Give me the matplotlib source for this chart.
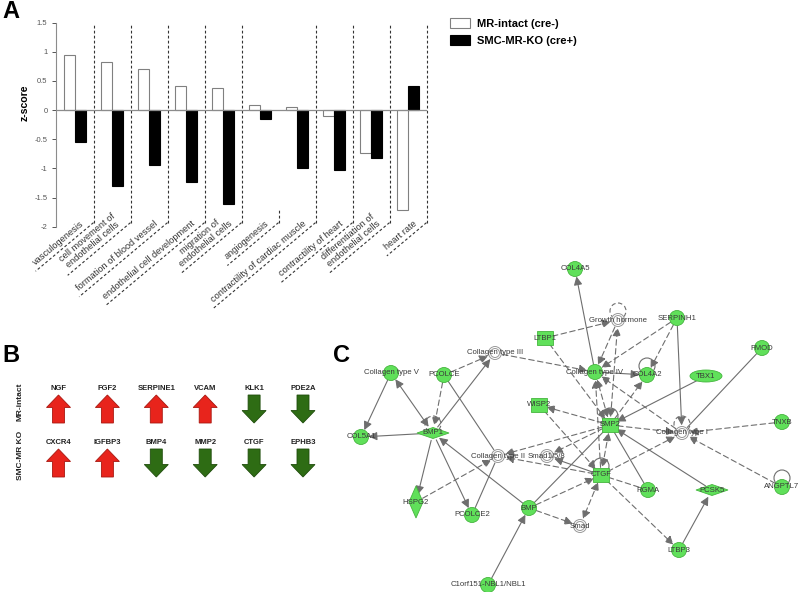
import numpy as np
import matplotlib
matplotlib.use('Agg')
import matplotlib.pyplot as plt
from matplotlib.patches import Circle, Rectangle, Polygon, Ellipse, FancyArrowPatch

plt.rcParams['font.family'] = ['Liberation Sans', 'DejaVu Sans']

# ---- panel A data ----
categories = ['vasculogenesis', 'cell movement of\nendothelial cells',
              'formation of blood vessel', 'endothelial cell development',
              'migration of\nendothelial cells', 'angiogenesis',
              'contractility of cardiac muscle', 'contractility of heart',
              'differentiation of\nendothelial cells', 'heart rate']
mr_intact = [0.95, 0.83, 0.71, 0.42, 0.38, 0.09, 0.06, -0.10, -0.74, -1.72]
smc_mr_ko = [-0.54, -1.30, -0.95, -1.23, -1.61, -0.15, -0.99, -1.02, -0.82, 0.41]
yticks = [1.5, 1, 0.5, 0, -0.5, -1, -1.5, -2]
ytick_labels = ['1.5', '1', '0.5', '0', '-0.5', '-1', '-1.5', '-2']

# ---- panel B data ----
row_names = ['MR-intact', 'SMC-MR KO']
row1_genes = ['NGF', 'FGF2', 'SERPINE1', 'VCAM', 'KLK1', 'PDE2A']
row1_dir = [1, 1, 1, 1, -1, -1]
row2_genes = ['CXCR4', 'IGFBP3', 'BMP4', 'MMP2', 'CTGF', 'EPHB3']
row2_dir = [1, 1, -1, -1, -1, -1]

# ---- panel C data (network layout in pixels) ----
node_names = ['COL4A5', 'Growth hormone', 'SERPINH1', 'LTBP1', 'FMOD',
              'Collagen type III', 'Collagen type V', 'PCOLCE', 'Collagen type IV',
              'COL4A2', 'TBX1', 'WISP2', 'BMP2', 'TNXB', 'Collagen type I',
              'COL5A1', 'BMP1', 'Collagen type II', 'Smad1/5/8', 'CTGF', 'RGMA',
              'PCSK5', 'ANGPTL7', 'HSPG2', 'PCOLCE2', 'BMP', 'Smad', 'LTBP3',
              'C1orf151-NBL1/NBL1']
node_x = [575, 618, 677, 545, 762, 495, 391, 444, 595, 647, 706, 539, 610, 782,
          682, 361, 433, 498, 547, 601, 648, 712, 782, 416, 472, 529, 580, 679, 488]
node_y = [269, 320, 318, 338, 348, 353, 373, 375, 372, 375, 376, 405, 425, 422,
          433, 437, 433, 456, 456, 475, 490, 490, 487, 502, 515, 508, 526, 550, 585]
node_kind = ['o', 'w', 'o', 's', 'o', 'w', 'o', 'o', 'o', 'o', 'e', 's', 's', 'o',
             'w', 'o', 'dw', 'w', 'w', 's', 'o', 'dw', 'o', 'dt', 'o', 'o', 'w', 'o', 'o']
self_loops = [('Growth hormone', '--'), ('COL4A2', '-'), ('BMP2', '-'),
              ('Collagen type I', '--'), ('BMP1', '--'), ('CTGF', '-'), ('ANGPTL7', '-')]
edges = [
    ('Collagen type V', 'COL5A1', '-', '->'),
    ('BMP1', 'Collagen type V', '-', '<->'),
    ('BMP1', 'COL5A1', '-', '->'),
    ('BMP1', 'Collagen type III', '-', '->'),
    ('BMP1', 'HSPG2', '-', '->'),
    ('BMP1', 'PCOLCE2', '-', '->'),
    ('PCOLCE', 'Collagen type II', '-', '-'),
    ('PCOLCE2', 'Collagen type II', '-', '-'),
    ('BMP', 'BMP1', '-', '->'),
    ('BMP', 'BMP2', '-', '-'),
    ('C1orf151-NBL1/NBL1', 'BMP', '-', '->'),
    ('Collagen type IV', 'COL4A5', '-', '->'),
    ('Collagen type IV', 'COL4A2', '-', '->'),
    ('SERPINH1', 'Collagen type I', '-', '->'),
    ('FMOD', 'Collagen type I', '-', '-'),
    ('TBX1', 'BMP2', '-', '->'),
    ('RGMA', 'BMP2', '-', '-'),
    ('PCSK5', 'BMP2', '-', '->'),
    ('LTBP3', 'PCSK5', '-', '->'),
    ('CTGF', 'Smad1/5/8', '-', '->'),
    ('PCOLCE', 'Collagen type III', '--', '->'),
    ('PCOLCE', 'BMP1', '--', '->'),
    ('Collagen type III', 'Collagen type IV', '--', '->'),
    ('LTBP1', 'Growth hormone', '--', '->'),
    ('LTBP1', 'BMP2', '--', '->'),
    ('Growth hormone', 'Collagen type IV', '--', '->'),
    ('BMP2', 'Growth hormone', '--', '<->'),
    ('SERPINH1', 'Collagen type IV', '--', '->'),
    ('SERPINH1', 'COL4A2', '--', '->'),
    ('BMP2', 'Collagen type IV', '--', '<->'),
    ('CTGF', 'Collagen type IV', '--', '->'),
    ('Collagen type I', 'Collagen type IV', '--', '->'),
    ('BMP2', 'COL4A2', '--', '->'),
    ('BMP2', 'WISP2', '--', '->'),
    ('BMP2', 'Collagen type I', '--', '->'),
    ('BMP2', 'Collagen type II', '--', '->'),
    ('BMP2', 'Smad1/5/8', '--', '->'),
    ('TNXB', 'Collagen type I', '--', '->'),
    ('ANGPTL7', 'Collagen type I', '--', '->'),
    ('CTGF', 'Collagen type I', '--', '->'),
    ('CTGF', 'Collagen type II', '--', '->'),
    ('BMP2', 'CTGF', '--', '<->'),
    ('CTGF', 'LTBP3', '--', '->'),
    ('CTGF', 'RGMA', '--', '-'),
    ('WISP2', 'CTGF', '--', '->'),
    ('HSPG2', 'Collagen type II', '--', '->'),
    ('BMP', 'Smad', '--', '->'),
    ('BMP', 'CTGF', '--', '->'),
    ('CTGF', 'Smad', '--', '<->'),
]

W, H = 800, 592
fig = plt.figure(figsize=(8, 5.92), dpi=100)

# overlay axes in pixel coordinates
ov = fig.add_axes([0, 0, 1, 1])
ov.set_xlim(0, W)
ov.set_ylim(H, 0)
ov.axis('off')

# ---------------- panel A ----------------
ax = fig.add_axes([56.5 / W, 1 - 226.7 / H, 370 / W, 204 / H])
ax.patch.set_visible(False)
x = np.arange(len(categories)) + 0.5
bars_w = ax.bar(x - 0.15, mr_intact, 0.3, color='white', edgecolor='#808080', lw=0.8,
                label='MR-intact (cre-)', zorder=2)
bars_b = ax.bar(x + 0.15, smc_mr_ko, 0.3, color='black', edgecolor='black', lw=0.8,
                label='SMC-MR-KO (cre+)', zorder=2)
ax.axhline(0, color='#8c8c8c', lw=0.9, zorder=3)
ax.set_xlim(0, len(categories))
ax.set_ylim(-2, 1.5)
ax.set_yticks(yticks)
ax.set_yticklabels(ytick_labels)
ax.tick_params(axis='y', labelsize=5.5, colors='#555555', length=3, width=0.7)
ax.set_xticks([])
for s in ['top', 'right', 'bottom']:
    ax.spines[s].set_visible(False)
ax.spines['left'].set_color('#8c8c8c')
ax.set_ylabel('z-score', fontsize=7.6, fontweight='bold')
ax.yaxis.set_label_coords(-0.072, 0.61)

# dashed cell dividers
div_top, div_bot = 1.46, -1.93
for i in range(1, len(categories) + 1):
    top = -1.72 if i == 6 else div_top
    ax.plot([i, i], [div_bot, top], color='#333333', lw=0.8, ls=(0, (2.5, 2)),
            clip_on=False, zorder=1)

# rotated labels with dashed underline
renderer = fig.canvas.get_renderer()
ang = np.deg2rad(40)
d = np.array([-np.cos(ang), np.sin(ang)])
n = np.array([-np.sin(ang), -np.cos(ang)])
for i, lab in enumerate(categories):
    p = ax.transData.transform((i + 1, div_bot))
    start = np.array([p[0], H - p[1]])
    anchor = start + 8 * d + 2.5 * n
    t = ov.text(anchor[0], anchor[1], lab, fontsize=6.7, color='#333333',
                ha='right', va='bottom', multialignment='center',
                linespacing=1.0, rotation_mode='anchor')
    width = t.get_window_extent(renderer).width
    t.set_rotation(40)
    end = start + (width + 12) * d
    ov.plot([start[0], end[0]], [start[1], end[1]], color='#333333', lw=0.8,
            ls=(0, (2.5, 2)))

fig.legend(handles=[bars_w, bars_b], loc='upper left',
           bbox_to_anchor=(450 / W, 1 - 18 / H), frameon=False,
           prop={'weight': 'bold', 'size': 8}, handlelength=1.8, handleheight=1.0,
           handletextpad=0.6, labelspacing=0.6, borderpad=0, borderaxespad=0)

# ---------------- panel letters ----------------
for letter, (lx, ly) in zip('ABC', [(11, 11), (11, 356), (341, 355)]):
    ov.text(lx, ly, letter, fontsize=17, fontweight='bold', ha='center', va='center')

# ---------------- panel B ----------------
col_x0, col_dx = 58.5, 48.9
red, red_edge = '#e8241c', '#a8170f'
green, green_edge = '#2e6c14', '#1f4c0c'


def arrow_poly(cx, top, direction):
    hw, sw, hh, L = 12, 6, 12.5, 28
    if direction > 0:
        pts = [(cx, top), (cx + hw, top + hh), (cx + sw, top + hh), (cx + sw, top + L),
               (cx - sw, top + L), (cx - sw, top + hh), (cx - hw, top + hh)]
        return Polygon(pts, closed=True, fc=red, ec=red_edge, lw=0.6)
    pts = [(cx, top + L), (cx + hw, top + L - hh), (cx + sw, top + L - hh), (cx + sw, top),
           (cx - sw, top), (cx - sw, top + L - hh), (cx - hw, top + L - hh)]
    return Polygon(pts, closed=True, fc=green, ec=green_edge, lw=0.6)


for genes, dirs, label_y, arrow_top in [(row1_genes, row1_dir, 388, 395),
                                        (row2_genes, row2_dir, 442, 449)]:
    for j, (g, dr) in enumerate(zip(genes, dirs)):
        cx = col_x0 + j * col_dx
        ov.text(cx, label_y, g, fontsize=5.5, fontweight='bold', color='#222222',
                ha='center', va='center')
        ov.add_patch(arrow_poly(cx, arrow_top, dr))
for name, ry in zip(row_names, [402, 455]):
    ov.text(20, ry, name, fontsize=6, fontweight='bold', rotation=90,
            ha='center', va='center', color='#222222')

# ---------------- panel C ----------------
pos = {nm: (xx, yy) for nm, xx, yy in zip(node_names, node_x, node_y)}
node_green, node_edge = '#60e05a', '#45b53e'
edge_col = '#6e6e6e'

for a, b, style, arr in edges:
    style_map = {'->': '-|>,head_length=0.5,head_width=0.25',
                 '<->': '<|-|>,head_length=0.5,head_width=0.25', '-': '-'}
    ls = (0, (5, 3)) if style == '--' else '-'
    fa = FancyArrowPatch(pos[a], pos[b], arrowstyle=style_map[arr], mutation_scale=10,
                         shrinkA=5.5, shrinkB=5.5, color=edge_col, lw=0.8,
                         linestyle=ls, zorder=2)
    ov.add_patch(fa)

for nm, ls in self_loops:
    xx, yy = pos[nm]
    ov.add_patch(Circle((xx, yy - 9), 8, fill=False, ec=edge_col, lw=0.8,
                        ls=(0, (4, 2.5)) if ls == '--' else '-', zorder=2))

for nm, kind in zip(node_names, node_kind):
    xx, yy = pos[nm]
    kw = dict(fc=node_green, ec=node_edge, lw=0.6, zorder=3)
    if kind == 'o':
        ov.add_patch(Circle((xx, yy), 7.5, **kw))
    elif kind == 's':
        ov.add_patch(Rectangle((xx - 8, yy - 7), 16, 14, **kw))
    elif kind == 'dw':
        ov.add_patch(Polygon([(xx - 16, yy), (xx, yy - 5.5), (xx + 16, yy), (xx, yy + 5.5)], **kw))
    elif kind == 'dt':
        ov.add_patch(Polygon([(xx, yy - 16), (xx + 7, yy), (xx, yy + 16), (xx - 7, yy)], **kw))
    elif kind == 'e':
        ov.add_patch(Ellipse((xx, yy), 32, 12, **kw))
    else:
        ov.add_patch(Circle((xx, yy), 6.5, fc='white', ec='#9a9a9a', lw=0.7, zorder=3))
        ov.add_patch(Circle((xx, yy), 4.5, fc='white', ec='#9a9a9a', lw=0.7, zorder=3))
    ov.text(xx, yy, nm, fontsize=5.6, color='#3a3a3a', ha='center', va='center', zorder=4)

fig.savefig('out.png', dpi=100)
